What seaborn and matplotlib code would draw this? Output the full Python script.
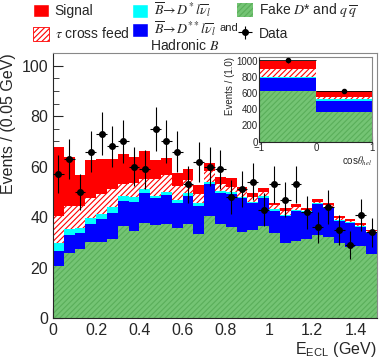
import numpy as np
import pandas as pd
import seaborn as sns
import matplotlib.pyplot as plt
from matplotlib.patches import Patch
from matplotlib.ticker import MultipleLocator, FormatStrFormatter

# E_ECL histogram: 30 bins of 0.05 GeV
edges = [round(0.05 * i, 2) for i in range(31)]
centers = [e + 0.025 for e in edges[:-1]]

# per-bin contributions (bottom to top of the stack)
fake = [20.8, 25.7, 27.4, 30.1, 30.1, 31.3, 36.4, 34.4, 37.6, 36.8,
        37.3, 35.6, 37.3, 33.2, 40.6, 37.4, 36.0, 34.3, 35.0, 36.6,
        33.7, 29.7, 30.4, 31.4, 33.0, 32.1, 30.0, 28.4, 28.7, 25.5]
dss_had = [6.0, 7.2, 6.3, 7.1, 9.1, 10.3, 10.0, 11.8, 11.9, 10.7,
           11.5, 9.9, 11.1, 11.3, 12.6, 12.1, 13.2, 13.2, 10.5, 11.1,
           8.9, 10.6, 11.9, 10.5, 12.1, 11.7, 8.5, 9.5, 7.6, 8.4]
dstar = [2.9, 2.5, 2.2, 2.3, 2.1, 2.3, 2.0, 2.0, 1.6, 1.0,
         1.0, 1.5, 1.1, 1.0, 0.9, 0.9, 0.6, 0.7, 0.7, 0.7,
         0.6, 0.7, 0.6, 0.4, 0.4, 0.4, 0.4, 0.3, 0.4, 0.3]
tau = [10.9, 9.1, 8.6, 8.3, 7.9, 7.3, 4.8, 5.2, 3.9, 6.8,
       6.9, 5.4, 5.3, 3.7, 4.0, 2.8, 2.3, 2.0, 1.7, 1.6,
       1.7, 1.6, 1.3, 0.6, 0.7, 0.7, 0.6, 0.4, 0.4, 0.3]
signal = [27.1, 19.5, 12.3, 14.9, 13.7, 11.9, 11.9, 10.4, 11.2, 7.2,
          6.7, 5.0, 4.3, 3.6, 3.3, 2.6, 3.3, 1.9, 1.8, 1.5,
          0.9, 1.0, 1.0, 0.9, 0.9, 0.6, 0.8, 0.7, 0.5, 0.6]
data = [57, 63, 50, 66, 73, 68, 70, 60, 59, 75,
        70, 66, 53, 62, 60, 59, 48, 51, 54, 43,
        53, 47, 53, 42, 36, 44, 35, 29, 41, 34]
data_err = [7.5, 7.9, 7.1, 8.1, 8.5, 8.2, 8.4, 7.7, 7.7, 8.7,
            8.4, 8.1, 7.3, 7.9, 7.7, 7.7, 6.9, 7.1, 7.3, 6.6,
            7.3, 6.9, 7.3, 6.5, 6.0, 6.6, 5.9, 5.4, 6.4, 5.8]

# inset: cos(theta_hel), two bins
cos_edges = [-1.0, 0.0, 1.0]
cos_centers = [-0.5, 0.5]
fake_cos = [628, 364]
dss_cos = [165, 144]
dstar_cos = [7, 22]
tau_cos = [97, 22]
signal_cos = [103, 68]
data_cos = [1004, 622]
data_cos_err = [32, 25]

RED = "#ff0000"
CYAN = "#00ffff"
BLUE = "#0000ff"
GREEN = "#74c474"
GREEN_H = "#5aae5a"

sns.set_style("ticks")
plt.rcParams["font.family"] = ["Liberation Sans", "DejaVu Sans"]
plt.rcParams["mathtext.fontset"] = "stix"
plt.rcParams["hatch.linewidth"] = 0.8

styles = [
    dict(color=GREEN, hatch="//////", hcolor=GREEN_H),
    dict(color=BLUE),
    dict(color=CYAN),
    dict(color="white", hatch="//////", hcolor=RED),
    dict(color=RED),
]


def draw_stack(ax, x, bins, parts):
    tops = np.cumsum(np.array(parts, dtype=float), axis=0)
    for top, st in reversed(list(zip(tops, styles))):
        df = pd.DataFrame({"x": x, "w": top})
        sns.histplot(data=df, x="x", weights="w", bins=bins, element="step",
                     fill=True, color=st["color"], alpha=1, linewidth=0, ax=ax)
        coll = ax.collections[-1]
        coll.set_facecolor(st["color"])
        if "hatch" in st:
            coll.set_hatch(st["hatch"])
            coll.set_edgecolor(st["hcolor"])
            coll.set_linewidth(0)


fig = plt.figure(figsize=(3.82, 3.64), dpi=100)
ax = fig.add_axes([0.139, 0.1255, 0.848, 0.729])

draw_stack(ax, centers, edges, [fake, dss_had, dstar, tau, signal])
eb = ax.errorbar(centers, data, yerr=data_err, xerr=0.025, fmt="o", color="black",
                 ms=4, elinewidth=0.8, capsize=0, zorder=5)

ax.set_xlim(0, 1.5)
ax.set_ylim(0, 105)
ax.xaxis.set_major_locator(MultipleLocator(0.2))
ax.xaxis.set_minor_locator(MultipleLocator(0.05))
ax.xaxis.set_major_formatter(FormatStrFormatter("%g"))
ax.yaxis.set_major_locator(MultipleLocator(20))
ax.yaxis.set_minor_locator(MultipleLocator(5))
ax.tick_params(which="both", direction="in", labelsize=11.5, top=False, right=False)
ax.tick_params(which="major", length=7)
ax.tick_params(which="minor", length=4)
ax.set_ylabel("Events / (0.05 GeV)", loc="top", fontsize=11.5)
ax.set_xlabel(r"E$_{\mathregular{ECL}}$ (GeV)", loc="right", fontsize=11.5, labelpad=1)
for s in ["top", "right"]:
    ax.spines[s].set_color("#888888")

# inset
ins = fig.add_axes([0.679, 0.611, 0.296, 0.232])
ins.set_facecolor("white")
draw_stack(ins, cos_centers, cos_edges, [fake_cos, dss_cos, dstar_cos, tau_cos, signal_cos])
ins.errorbar(cos_centers, data_cos, yerr=data_cos_err, xerr=0.5, fmt="o", color="black",
             ms=3, elinewidth=0.6, capsize=0, zorder=5)
ins.set_xlim(-1, 1)
ins.set_ylim(0, 1045)
ins.xaxis.set_major_locator(MultipleLocator(1))
ins.xaxis.set_minor_locator(MultipleLocator(0.1))
ins.yaxis.set_major_locator(MultipleLocator(200))
ins.yaxis.set_minor_locator(MultipleLocator(50))
ins.tick_params(which="both", direction="in", labelsize=7, top=False, right=False, pad=1)
ins.tick_params(which="major", length=4)
ins.tick_params(which="minor", length=2)
ins.set_ylabel("Events / (1.0)", loc="top", fontsize=7, labelpad=1)
ins.set_xlabel(r"cos$\theta_{hel}$", loc="right", fontsize=7, labelpad=1)
for s in ["top", "right"]:
    ins.spines[s].set_color("#888888")


# legend entries placed one by one above the frame (pixel positions of entry centres)
def entry(handle, label, xpix, ypix):
    fig.legend([handle], [label], loc="center left",
               bbox_to_anchor=(xpix / 382, 1 - ypix / 364),
               frameon=False, fontsize=10, handlelength=1.15, handleheight=1.15,
               handletextpad=0.4, borderpad=0, borderaxespad=0)


entry(Patch(facecolor=RED), "Signal", 33, 11)
entry(Patch(facecolor="white", edgecolor=RED, hatch="//////", linewidth=0.6),
      r"$\tau$ cross feed", 33, 34)
entry(Patch(facecolor=CYAN), r"$\overline{B}\!\rightarrow\! D^*l\overline{\nu}_l$", 132, 10)
entry(Patch(facecolor=BLUE), r"$\overline{B}\!\rightarrow\! D^{**}l\overline{\nu}_l$", 132, 29)
fig.text(219 / 382, 1 - 28 / 364, "and", ha="left", va="center", fontsize=8)
fig.text(185 / 382, 1 - 45 / 364, "Hadronic $B$", ha="center", va="center", fontsize=10)
entry(Patch(facecolor=GREEN, edgecolor=GREEN_H, hatch="//////", linewidth=0),
      r"Fake $D$* and $q\,\overline{q}$", 237, 11)
entry(eb, "Data", 237, 34)

fig.savefig("out.png", dpi=100)
